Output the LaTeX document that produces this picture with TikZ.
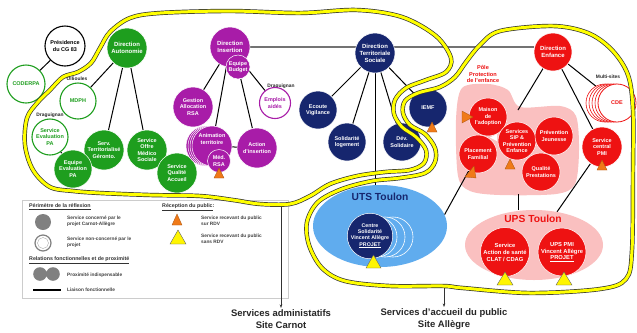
\documentclass[tikz,border=0pt]{standalone}
\usepackage{fontspec}
\setmainfont{Liberation Sans}
\usetikzlibrary{shapes.geometric,arrows.meta,backgrounds}
\definecolor{cgreen}{RGB}{30,158,30}
\definecolor{cpurple}{RGB}{168,28,168}
\definecolor{cnavy}{RGB}{22,38,110}
\definecolor{cred}{RGB}{238,18,18}
\definecolor{cpink}{RGB}{250,192,192}
\definecolor{cblue}{RGB}{96,172,238}
\definecolor{corange}{RGB}{240,122,24}
\definecolor{cyellow}{RGB}{255,245,0}
\definecolor{cband}{RGB}{255,255,0}
\newcommand\fcirc{\fontsize{5.5}{6.5}\selectfont\bfseries}
\newcommand\fdir{\fontsize{6}{7}\selectfont\bfseries}
\newcommand\fups{\fontsize{5.8}{7}\selectfont\bfseries}
\newcommand\fbig{\fontsize{10.3}{12}\selectfont\bfseries}
\newcommand\flbl{\fontsize{4.9}{5.5}\selectfont\bfseries}
\newcommand\fleg{\fontsize{4.8}{6.5}\selectfont\bfseries}
\newcommand\flegh{\fontsize{5.3}{6}\selectfont\bfseries}
\newcommand\fbottom{\fontsize{9.5}{11.8}\selectfont\bfseries}
\newcommand\fpole{\fontsize{5.6}{6.6}\selectfont\bfseries}
\newcommand\fcent{\fontsize{5.3}{6.3}\selectfont\bfseries}
\begin{document}
\begin{tikzpicture}[x=1bp,y=-1bp,
  base/.style={circle,inner sep=0pt,align=center,font=\fcirc},
  gfill/.style={base,fill=cgreen,draw=white,line width=0.5bp,text=white,minimum size=#1},
  gring/.style={base,fill=white,draw=cgreen,line width=1.1bp,text=cgreen,minimum size=#1},
  kring/.style={base,fill=white,draw=black,line width=1.1bp,text=black,minimum size=#1},
  pfill/.style={base,fill=cpurple,draw=white,line width=0.5bp,text=white,minimum size=#1},
  pring/.style={base,fill=white,draw=cpurple,line width=1.1bp,text=cpurple,minimum size=#1},
  nfill/.style={base,fill=cnavy,draw=white,line width=0.5bp,text=white,minimum size=#1},
  rfill/.style={base,fill=cred,draw=white,line width=0.5bp,text=white,minimum size=#1},
  rring/.style={base,fill=white,draw=cred,line width=0.8bp,text=cred,minimum size=#1},
  conn/.style={draw=black,line width=1bp},
  hline/.style={draw=black!55,line width=1.3bp},
  lbl/.style={font=\flbl,text=black!85,inner sep=0pt},
  leg/.style={font=\fleg,text=black!75,align=left,anchor=west,inner sep=0pt},
  legh/.style={font=\flegh,text=black!80,anchor=west,inner sep=0pt},
  otri/.style={fill=corange,draw=corange!70!black,line width=0.3bp},
  ytri/.style={fill=cyellow,draw=black!60,line width=0.4bp},
  bandout/.style={draw=black!80,line width=4.4bp},
  bandin/.style={draw=cband,line width=3bp},
  arr/.style={draw=black!80,line width=0.6bp,-{Stealth[length=3.5bp,width=2.6bp]}},
  bottomlbl/.style={font=\fbottom,text=black!85,align=center,inner sep=1.5bp},
]
\useasboundingbox (0,0) rectangle (637,332);
\begin{pgfonlayer}{background}
\fill[white] (0,0) rectangle (637,332);
\path[fill=cpink] plot[smooth cycle,tension=0.5] coordinates {(462,88) (488,84) (508,90) (520,107) (560,106) (576,116) (579,150) (575,184) (556,194) (500,195) (470,191) (458,176) (456,120)};
\end{pgfonlayer}

% legend box
\draw[black!20,fill=white,line width=0.5bp] (22,200) rectangle (288,298);
\node[legh] (lg1) at (29,207) {\underline{Périmètre de la réflexion}};
\node[circle,fill=black!50,minimum size=16bp,inner sep=0pt] (lgc1) at (43,222) {};
\node[leg] (lg2) at (67,221) {Service concerné par le\\projet Carnot-Allègre};
\node[circle,draw=black!50,line width=1.2bp,fill=white,minimum size=16bp,inner sep=0pt] (lgc2) at (43,243) {};
\node[circle,draw=black!40,line width=0.3bp,fill=white,minimum size=11bp,inner sep=0pt] (lgc3) at (43,243) {};
\node[leg] (lg3) at (67,242) {Service non-concerné par le\\projet};
\node[legh] (lg4) at (29,260) {\underline{Relations fonctionnelles et de proximité}};
\fill[black!50] (40,274) circle[radius=6.8bp] (53,274) circle[radius=6.8bp];
\node[leg] (lg5) at (67,275) {Proximité indispensable};
\coordinate (lgl1) at (33,290);
\coordinate (lgl2) at (61,290);
\draw[black,line width=1.2bp] (lgl1) -- (lgl2);
\node[leg] (lg6) at (67,290) {Liaison fonctionnelle};
\node[legh] (lg7) at (162,207) {\underline{Réception du public}:};
\path[otri] (172,225) -- (182,225) -- (177,214) -- cycle;
\node[leg] (lg8) at (201,221) {Service recevant du public\\sur RDV};
\path[ytri] (170,244) -- (186,244) -- (178,230) -- cycle;
\node[leg] (lg9) at (201,239) {Service recevant du public\\sans RDV};

% green group
\node[kring=40bp] (pres) at (65,46) {Présidence\\du CG 83};
\node[gring=38bp] (coder) at (26,84) {CODERPA};
\node[gfill=40bp,font=\fdir] (dirA) at (127,48) {Direction\\Autonomie};
\node[gring=36bp] (mdph) at (78,101) {MDPH};
\node[lbl] (oll) at (77,79) {Ollioules};
\node[lbl] (drag1) at (50,115) {Draguignan};
\node[gring=36bp] (sepa) at (50,137) {Service\\Evaluation\\PA};
\node[gfill=40bp] (stg) at (104,150) {Serv.\\Territorialisé\\Géronto.};
\node[gfill=38bp] (eepa) at (73,169) {Equipe\\Evaluation\\PA};
\node[gfill=40bp] (soms) at (147,150) {Service\\Offre\\Médico\\Sociale};
\node[gfill=40bp] (sqa) at (177,173) {Service\\Qualité\\Accueil};

% purple group
\node[pfill=40bp,font=\fdir] (dirI) at (230,47) {Direction\\Insertion};
\node[pfill=24bp] (budg) at (238,67) {Equipe\\Budget};
\node[pfill=40bp] (gest) at (193,107) {Gestion\\Allocation\\RSA};
\node[lbl] (drag2) at (281,86) {Draguignan};
\node[pring=31bp] (empl) at (275,103) {Emplois\\aidés};
\foreach \d in {6,4,2} \path[fill=cpurple,draw=white,line width=0.5bp] (212-\d,146) circle[radius=20bp];
\node[pfill=40bp] (anim) at (212,146) {};
\node[font=\fcirc,text=white,align=center,inner sep=0pt] (animT) at (212,139) {Animation\\territoire};
\node[pfill=23bp] (med) at (219,161) {Méd.\\RSA};
\path[otri] (214,178) -- (224,178) -- (219,168) -- cycle;
\node[pfill=40bp] (act) at (257,148) {Action\\d'insertion};

% navy group
\node[nfill=40bp,font=\fdir] (dts) at (375,53) {Direction\\Territoriale\\Sociale};
\node[nfill=38bp] (ecou) at (318,110) {Ecoute\\Vigilance};
\node[nfill=38bp] (soli) at (347,142) {Solidarité\\logement};
\node[nfill=38bp] (dev) at (402,142) {Dév.\\Solidaire};
\node[nfill=38bp] (iemf) at (428,108) {IEMF};
\path[otri] (427,132) -- (437,132) -- (432,122) -- cycle;

% UTS
\node[ellipse,fill=cblue,minimum width=134bp,minimum height=82bp,inner sep=0pt] (uts) at (380,226) {};
\node[font=\fbig,text=cnavy,inner sep=0pt] (utsT) at (380,197) {UTS Toulon};
\foreach \d in {23,15,7} \path[fill=cblue,draw=white,line width=0.6bp] (370+\d,237) circle[radius=20bp];
\node[nfill=41bp,font=\fcent] (cent) at (370,236) {Centre\\Solidarité\\Vincent Allègre\\\underline{PROJET}};
\path[ytri] (366,268) -- (381,268) -- (373.5,255) -- cycle;

% red group
\node[rfill=38bp,font=\fdir] (dirE) at (553,52) {Direction\\Enfance};
\node[font=\fpole,text=cred,align=center,inner sep=0pt] (poleT) at (483,74) {Pôle\\Protection\\de l'enfance};
\node[rfill=38bp] (mais) at (488,117) {Maison\\de\\l'adoption};
\node[rfill=38bp] (plac) at (478,154) {Placement\\Familial};
\node[rfill=38bp] (sip) at (517,141) {Services\\SIP \&\\Prévention\\Enfance};
\node[rfill=38bp] (prev) at (554,136) {Prévention\\Jeunesse};
\node[rfill=38bp] (qual) at (541,172) {Qualité\\Prestations};
\path[otri] (462,111) -- (462,123) -- (473,117) -- cycle;
\path[otri] (465,177) -- (476,178) -- (474,166) -- cycle;
\path[otri] (505,169) -- (515,169) -- (510,159) -- cycle;
\path[fill=white] (490,137.5) -- (497,134) -- (497,141) -- cycle;
\coordinate (poleN) at (518,110);
\coordinate (poleS) at (518,194);
\foreach \d in {12,9,6,3} \path[fill=white,draw=cred,line width=0.6bp] (617-\d,103) circle[radius=19bp];
\node[rring=38bp] (cde) at (617,103) {CDE};
\node[lbl] (multi) at (608,77) {Multi-sites};
\node[rfill=40bp] (pmi) at (602,147) {Service\\central\\PMI};
\path[otri] (597,170) -- (607,170) -- (602,160) -- cycle;

% UPS
\node[ellipse,fill=cpink,minimum width=138bp,minimum height=70bp,inner sep=0pt] (ups) at (534,245) {};
\node[font=\fbig,text=cred,inner sep=0pt] (upsT) at (533,219) {UPS Toulon};
\node[rfill=49bp,font=\fups] (clat) at (505,252) {Service\\Action de santé\\CLAT / CDAG};
\node[rfill=48bp,font=\fups] (upspmi) at (562,252) {UPS PMI\\Vincent Allègre\\\underline{PROJET}};
\path[ytri] (497,285) -- (513,285) -- (505,272) -- cycle;
\path[ytri] (556,285) -- (572,285) -- (564,272) -- cycle;

% connectors
\begin{pgfonlayer}{background}
\draw[conn] (pres) -- (coder);
\draw[conn] (dirA) -- (mdph);
\draw[conn] (dirA) -- (stg);
\draw[conn] (dirA) -- (soms);
\draw[conn] (sepa) -- (eepa);
\draw[conn] (dirI) -- (gest);
\draw[conn] (dirI) -- (anim);
\draw[conn] (budg) -- (act);
\draw[conn] (dirI) -- (empl);
\draw[conn] (anim) -- (act);
\draw[hline] (dirI.east) -- (dirI.east -| dirE.west);
\draw[conn] (dts) -- (ecou);
\draw[conn] (dts) -- (soli);
\draw[conn] (dts) -- (dev);
\draw[conn] (dts) -- (iemf);
\draw[conn] (dts.south) -- (dts.south |- uts.north);
\draw[conn] (uts.10) -- (plac);
\draw[conn] (dirE) -- (poleN);
\draw[conn] (dirE) -- (pmi);
\draw[conn] (dirE) -- (cde);
\draw[conn] (poleS) -- (poleS |- ups.north);
\draw[conn] (pmi) -- (ups);
\end{pgfonlayer}

% bottom labels and arrows
\node[bottomlbl] (carnot) at (281,319) {Services administatifs\\Site Carnot};
\node[bottomlbl] (allegre) at (444,319) {Services d'accueil du public\\Site Allègre};
\coordinate (cA) at (281,203);
\coordinate (cB) at (444,287);
\draw[arr] (cA) -- (carnot);
\draw[arr] (cB) -- (allegre);

% perimeter bands
\def\bandA{(27,118) (38,102) (50,90) (63,77) (78,72) (91,63) (100,48) (110,32) (130,18) (160,13) (230,11) (300,13) (357,10) (402,17) (436,36) (451,58) (446,72) (426,80) (406,88) (395,100) (394,114) (402,127) (416,137) (426,150) (424,163) (410,170) (385,172) (357,176) (330,184) (310,196) (290,204) (260,204) (233,200) (200,196) (150,195) (100,193) (73,191) (50,187) (33,170) (25,145)}
\def\bandB{(500,31) (553,26) (588,33) (612,50) (628,75) (633,110) (633,170) (632,250) (626,279) (600,289) (530,293) (463,288) (443,286) (390,286) (345,281) (322,268) (309,245) (307,222) (318,202) (342,189) (372,181) (400,178) (425,173) (435,162) (435,148) (425,134) (410,125) (403,113) (405,101) (418,93) (440,87) (455,77) (466,62) (480,45)}
\draw[bandout] plot[smooth cycle,tension=0.55] coordinates {\bandA};
\draw[bandin] plot[smooth cycle,tension=0.55] coordinates {\bandA};
\draw[bandout] plot[smooth cycle,tension=0.55] coordinates {\bandB};
\draw[bandin] plot[smooth cycle,tension=0.55] coordinates {\bandB};
\end{tikzpicture}
\end{document}
